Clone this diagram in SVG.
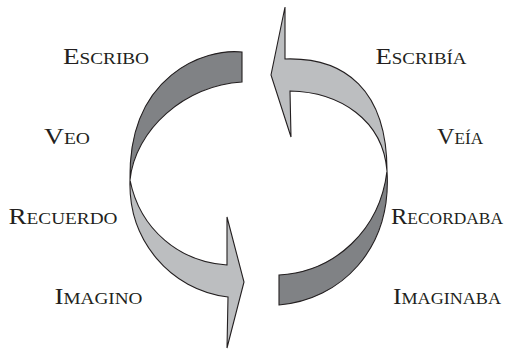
<svg xmlns="http://www.w3.org/2000/svg" width="521" height="353" viewBox="0 0 521 353">
<style>
.lbl{font-family:"Liberation Serif","Times New Roman",serif;font-size:24px;font-variant:small-caps;fill:#231f20;text-anchor:middle}
.dark{fill:#808285;stroke:#231f20;stroke-width:1.1;stroke-linejoin:miter}
.light{fill:#bcbec0;stroke:#231f20;stroke-width:1.1;stroke-linejoin:miter}
</style>
<rect width="521" height="353" fill="#ffffff"/>
<g id="connectors">
<path class="dark" d="M242,52 C205,48 128,75 130,180 C135,130 185,85 242,82 Z"/>
<path class="light" d="M130,180 C140,230 180,262 227,265 L227,217 L244,282 L227,348 L228,297 C170,290 128,240 130,180 Z"/>
<path class="light" d="M285,59 L285,7 L271,75 L291,137 L290,91 C340,92 383,120 387,171 C387,90 345,57 285,59 Z"/>
<path class="dark" d="M387,171 C392,250 340,300 279,305 L279,275 C335,272 380,230 387,171 Z"/>
</g>
<g id="escribo"><text class="lbl" x="106" y="63.5" textLength="86" lengthAdjust="spacingAndGlyphs">Escribo</text></g>
<g id="veo"><text class="lbl" x="67" y="143.5" textLength="46" lengthAdjust="spacingAndGlyphs">Veo</text></g>
<g id="recuerdo"><text class="lbl" x="63" y="223.5" textLength="109" lengthAdjust="spacingAndGlyphs">Recuerdo</text></g>
<g id="imagino"><text class="lbl" x="98.5" y="303.5" textLength="88" lengthAdjust="spacingAndGlyphs">Imagino</text></g>
<g id="escribia"><text class="lbl" x="421" y="63.5" textLength="91" lengthAdjust="spacingAndGlyphs">Escribía</text></g>
<g id="veia"><text class="lbl" x="460" y="143.5" textLength="46" lengthAdjust="spacingAndGlyphs">Veía</text></g>
<g id="recordaba"><text class="lbl" x="447" y="223.5" textLength="112" lengthAdjust="spacingAndGlyphs">Recordaba</text></g>
<g id="imaginaba"><text class="lbl" x="447" y="303.5" textLength="108" lengthAdjust="spacingAndGlyphs">Imaginaba</text></g>
</svg>
